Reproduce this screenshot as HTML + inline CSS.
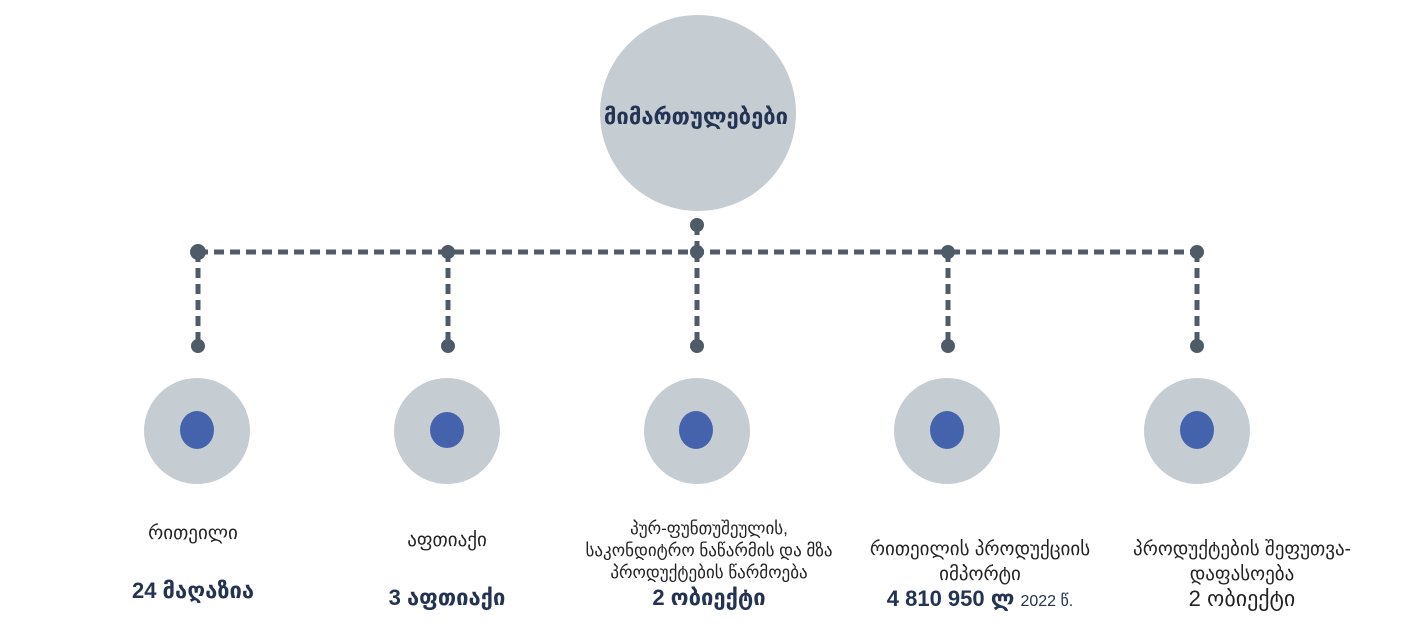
<!DOCTYPE html>
<html><head><meta charset="utf-8"><style>
body{margin:0;width:1401px;height:633px;background:#fff;position:relative;overflow:hidden;font-family:"Liberation Sans","DejaVu Sans",sans-serif;}
.t{position:absolute;transform:translateX(-50%);white-space:nowrap;text-align:center;color:#222;font-size:19px;line-height:22px;}
.b{position:absolute;transform:translateX(-50%);white-space:nowrap;color:#243353;font-size:22px;font-weight:bold;}
</style></head><body>
<svg width="1401" height="633" style="position:absolute;left:0;top:0">
<circle cx="698" cy="113" r="98" fill="#c5cdd2"/>
<g stroke="#4f5b66" stroke-width="5" stroke-dasharray="10,6" fill="none">
<line x1="198" y1="252" x2="1197" y2="252"/>
<line x1="697" y1="225" x2="697" y2="252"/>
<line x1="198" y1="252" x2="198" y2="346"/>
<line x1="448" y1="252" x2="448" y2="346"/>
<line x1="697" y1="252" x2="697" y2="346"/>
<line x1="948" y1="252" x2="948" y2="346"/>
<line x1="1197" y1="252" x2="1197" y2="346"/>
</g>
<g fill="#4f5b66">
<circle cx="697" cy="225" r="7"/>
<circle cx="198" cy="252" r="8"/><circle cx="448" cy="252" r="7"/><circle cx="697" cy="252" r="7"/><circle cx="948" cy="252" r="7"/><circle cx="1197" cy="252" r="7"/>
<circle cx="198" cy="346" r="7"/><circle cx="448" cy="346" r="7"/><circle cx="697" cy="346" r="7"/><circle cx="948" cy="346" r="7"/><circle cx="1197" cy="346" r="7"/>
</g>
<g fill="#c5cdd2"><circle cx="197" cy="431" r="53"/><circle cx="447" cy="431" r="53"/><circle cx="697" cy="431" r="53"/><circle cx="947" cy="431" r="53"/><circle cx="1197" cy="431" r="53"/></g>
<g fill="#4562ad"><ellipse cx="197" cy="430" rx="17" ry="19"/><ellipse cx="447" cy="430" rx="17" ry="18"/><ellipse cx="696" cy="430" rx="17" ry="19"/><ellipse cx="947" cy="430" rx="17" ry="19"/><ellipse cx="1197" cy="430" rx="17" ry="19"/></g>
</svg>
<div class="b" style="left:696px;top:104px;font-size:22px;">მიმართულებები</div>
<div class="t" style="left:193px;top:523px;">რითეილი</div>
<div class="b" style="left:193px;top:578px;">24 მაღაზია</div>
<div class="t" style="left:447px;top:530px;">აფთიაქი</div>
<div class="b" style="left:447px;top:585px;">3 აფთიაქი</div>
<div class="t" style="left:709px;top:518px;font-size:17px;">პურ-ფუნთუშეულის,<br>საკონდიტრო ნაწარმის და მზა<br>პროდუქტების წარმოება</div>
<div class="b" style="left:709px;top:585px;">2 ობიექტი</div>
<div class="t" style="left:980px;top:537px;font-size:19px;line-height:25px;">რითეილის პროდუქციის<br>იმპორტი</div>
<div class="b" style="left:980px;top:586px;">4 810 950 ლ <span style="font-weight:normal;font-size:16px;color:#243353">2022 წ.</span></div>
<div class="t" style="left:1242px;top:537px;font-size:19px;line-height:25px;">პროდუქტების  შეფუთვა-<br>დაფასოება</div>
<div class="b" style="left:1242px;top:586px;font-weight:normal;color:#222;">2 ობიექტი</div>
</body></html>
